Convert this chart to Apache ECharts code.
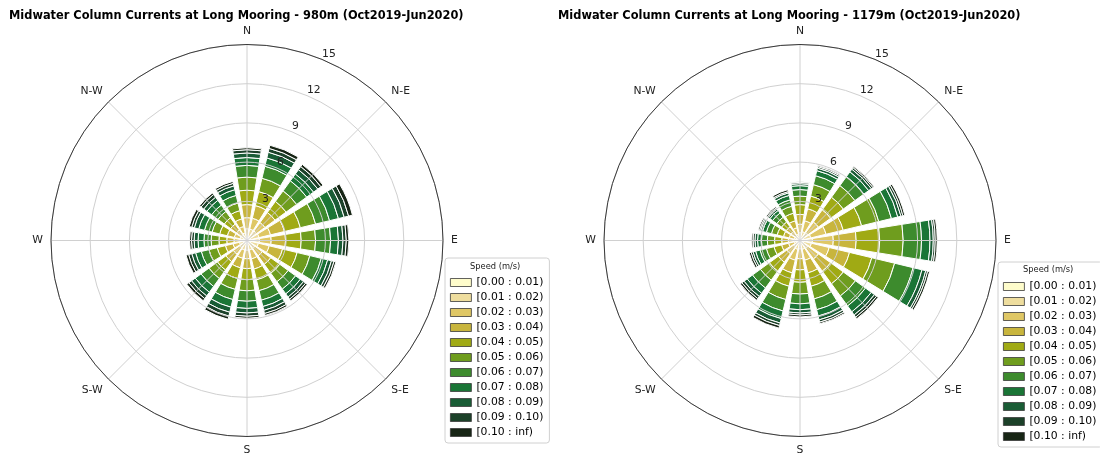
<!DOCTYPE html>
<html><head><meta charset="utf-8">
<script src="https://cdn.jsdelivr.net/npm/echarts@6/dist/echarts.min.js"></script>
<style>html,body{margin:0;padding:0;background:#fff}#c{width:1100px;height:455px}</style>
</head><body><div id="c"></div>
<script>
const directions = ['N','NNE','NE','ENE','E','ESE','SE','SSE','S','SSW','SW','WSW','W','WNW','NW','NNW'];
const speedBins = ['[0.00 : 0.01)','[0.01 : 0.02)','[0.02 : 0.03)','[0.03 : 0.04)','[0.04 : 0.05)','[0.05 : 0.06)','[0.06 : 0.07)','[0.07 : 0.08)','[0.08 : 0.09)','[0.09 : 0.10)','[0.10 : inf)'];
const compassLabels = ['N','N-E','E','S-E','S','S-W','W','N-W'];
const chartTitles = ['Midwater Column Currents at Long Mooring - 980m (Oct2019-Jun2020)','Midwater Column Currents at Long Mooring - 1179m (Oct2019-Jun2020)'];
const legendTitle = 'Speed (m/s)';
const radiusMax = 15, radiusStep = 3;

// frequency (%) — one row per direction (N..NNW), one column per speed bin
const freq980 = [
  [0.30,0.60,0.85,1.00,1.10,1.00,0.90,0.60,0.35,0.25,0.15],
  [0.30,0.60,0.85,1.00,1.10,1.05,0.95,0.65,0.45,0.30,0.25],
  [0.30,0.60,0.80,0.95,1.05,1.00,0.95,0.65,0.40,0.30,0.20],
  [0.30,0.65,0.90,1.10,1.25,1.20,1.10,0.70,0.45,0.35,0.30],
  [0.30,0.65,0.90,1.10,1.20,1.10,1.15,0.60,0.35,0.25,0.20],
  [0.30,0.60,0.85,1.05,1.15,1.00,0.90,0.50,0.30,0.20,0.15],
  [0.25,0.50,0.70,0.80,0.85,0.80,0.70,0.45,0.30,0.20,0.15],
  [0.25,0.50,0.70,0.80,0.85,0.85,0.75,0.50,0.30,0.25,0.15],
  [0.25,0.50,0.65,0.75,0.85,0.85,0.80,0.55,0.35,0.25,0.15],
  [0.25,0.50,0.65,0.75,0.85,0.85,0.80,0.60,0.40,0.30,0.25],
  [0.25,0.45,0.60,0.70,0.80,0.80,0.75,0.55,0.35,0.25,0.20],
  [0.20,0.40,0.50,0.60,0.65,0.65,0.60,0.45,0.30,0.25,0.20],
  [0.20,0.35,0.45,0.55,0.60,0.60,0.55,0.45,0.30,0.20,0.15],
  [0.20,0.35,0.45,0.55,0.60,0.60,0.60,0.45,0.35,0.20,0.20],
  [0.20,0.35,0.45,0.55,0.60,0.60,0.60,0.45,0.30,0.25,0.15],
  [0.20,0.40,0.50,0.60,0.65,0.60,0.60,0.45,0.30,0.20,0.15]
];
const freq1179 = [
  [0.20,0.40,0.65,0.75,0.75,0.65,0.50,0.30,0.15,0.10,0.05],
  [0.20,0.50,0.85,0.95,1.00,0.90,0.70,0.40,0.20,0.12,0.08],
  [0.20,0.55,1.00,1.15,1.20,1.10,0.85,0.45,0.25,0.15,0.10],
  [0.25,0.60,1.20,1.35,1.45,1.35,1.00,0.50,0.25,0.15,0.15],
  [0.25,0.70,1.60,1.75,1.80,1.80,1.40,0.65,0.25,0.15,0.15],
  [0.25,0.65,1.40,1.60,1.75,1.80,1.45,0.70,0.30,0.15,0.15],
  [0.20,0.55,1.00,1.15,1.20,1.15,0.95,0.55,0.30,0.20,0.15],
  [0.20,0.50,0.85,1.00,1.05,1.00,0.85,0.50,0.30,0.18,0.12],
  [0.20,0.45,0.75,0.85,0.95,0.90,0.75,0.45,0.25,0.15,0.15],
  [0.20,0.50,0.85,1.00,1.05,1.05,0.90,0.60,0.35,0.20,0.20],
  [0.20,0.40,0.65,0.80,0.85,0.85,0.75,0.50,0.30,0.20,0.15],
  [0.15,0.30,0.45,0.55,0.60,0.60,0.50,0.35,0.20,0.15,0.15],
  [0.15,0.30,0.45,0.50,0.55,0.55,0.45,0.30,0.20,0.15,0.10],
  [0.15,0.30,0.40,0.45,0.50,0.45,0.40,0.30,0.15,0.10,0.10],
  [0.15,0.30,0.40,0.45,0.45,0.45,0.40,0.25,0.15,0.10,0.10],
  [0.15,0.35,0.50,0.55,0.60,0.55,0.50,0.35,0.20,0.10,0.15]
];
const palette = ['#fefccb','#eedd9e','#dfc765','#c8b53d','#a0aa14','#6f9d1e','#3d8b2d','#1a7536','#195c35','#1c4129','#172515'];

const FONT = 'DejaVu Sans';
const GRID = '#d0d0d0';

function barSeries(table, polarIndex, stack) {
  return speedBins.map((name, b) => ({
    type: 'bar', coordinateSystem: 'polar', polarIndex: polarIndex, name: name, stack: stack,
    data: table.map(row => row[b]),
    barWidth: '80%', z: 2,
    itemStyle: { color: palette[b], borderColor: '#ffffff', borderWidth: 1 },
    emphasis: { disabled: true },
    silent: true
  }));
}

function polarSet(cx) {
  return [0,1,2].map(() => ({ center: [cx, 240.5], radius: 196 }));
}

function axesFor(base) {
  const angle = [
    { polarIndex: base, type: 'category', data: directions, startAngle: 101.25, clockwise: true,
      axisLine: {show:false}, axisTick: {show:false}, axisLabel: {show:false}, splitLine: {show:false}, splitArea:{show:false} },
    { polarIndex: base+1, type: 'value', min: 0, max: 360, interval: 45, startAngle: 90, clockwise: true, z: 5,
      axisLine: { show: true, lineStyle: { color: '#3a3a3a', width: 1 } },
      axisTick: { show: false },
      axisLabel: { show: true, margin: 8, color: '#222', fontSize: 10.8, fontFamily: FONT,
        formatter: v => (v >= 360 ? '' : compassLabels[Math.round(v/45)]) },
      splitLine: { show: true, lineStyle: { color: GRID, width: 1 } }, splitArea:{show:false} },
    { polarIndex: base+2, type: 'value', min: 0, max: 360, startAngle: 67.5, clockwise: true,
      axisLine: {show:false}, axisTick: {show:false}, axisLabel: {show:false}, splitLine: {show:false}, splitArea:{show:false} }
  ];
  const radius = [
    { polarIndex: base, type: 'value', min: 0, max: radiusMax,
      axisLine: {show:false}, axisTick: {show:false}, axisLabel: {show:false}, splitLine: {show:false} },
    { polarIndex: base+1, type: 'value', min: 0, max: radiusMax, interval: radiusStep, z: 5,
      axisLine: {show:false}, axisTick: {show:false}, axisLabel: {show:false},
      splitLine: { show: true, lineStyle: { color: GRID, width: 1 } } },
    { polarIndex: base+2, type: 'value', min: 0, max: radiusMax, interval: radiusStep, z: 6,
      axisLine: {show:false}, axisTick: {show:false}, splitLine: {show:false},
      axisLabel: { show: true, margin: 0, align: 'left', verticalAlign: 'bottom', color: '#222',
        fontSize: 10.8, fontFamily: FONT, showMinLabel: false,
        formatter: v => (v === 0 ? '' : String(v)) } }
  ];
  return { angle, radius };
}

const L = axesFor(0), R = axesFor(3);

function legendAt(left, top) {
  return {
    data: speedBins, orient: 'vertical', left: left, top: top,
    itemWidth: 21, itemHeight: 8, itemGap: 2, icon: 'rect',
    padding: [18, 6, 4, 5],
    borderColor: '#d0d0d0', borderWidth: 1, borderRadius: 3,
    backgroundColor: 'rgba(255,255,255,0.85)',
    selectedMode: false,
    itemStyle: { borderColor: '#3a3a3a', borderWidth: 0.8 },
    textStyle: { fontSize: 10.8, lineHeight: 13, color: '#000', fontFamily: FONT }
  };
}

const titleStyle = { fontSize: 11.4, fontWeight: 'bold', fontFamily: FONT, color: '#000' };
const legTitleStyle = { fontSize: 8.3, fontWeight: 'normal', fontFamily: FONT, color: '#222' };

const option = {
  animation: false,
  backgroundColor: '#ffffff',
  title: [
    { text: chartTitles[0], left: 9, top: 11, padding: 0, textStyle: titleStyle },
    { text: chartTitles[1], left: 558, top: 11, padding: 0, textStyle: titleStyle },
    { text: legendTitle, left: 470, top: 263, padding: 0, textStyle: legTitleStyle },
    { text: legendTitle, left: 1023, top: 266, padding: 0, textStyle: legTitleStyle }
  ],
  legend: [ legendAt(445, 258), legendAt(998, 262) ],
  polar: polarSet(247).concat(polarSet(800)),
  angleAxis: L.angle.concat(R.angle),
  radiusAxis: L.radius.concat(R.radius),
  series: barSeries(freq980, 0, 'd980').concat(barSeries(freq1179, 3, 'd1179'))
};

const chart = echarts.init(document.getElementById('c'), null, { renderer: 'canvas' });
chart.setOption(option);
</script>
</body></html>
